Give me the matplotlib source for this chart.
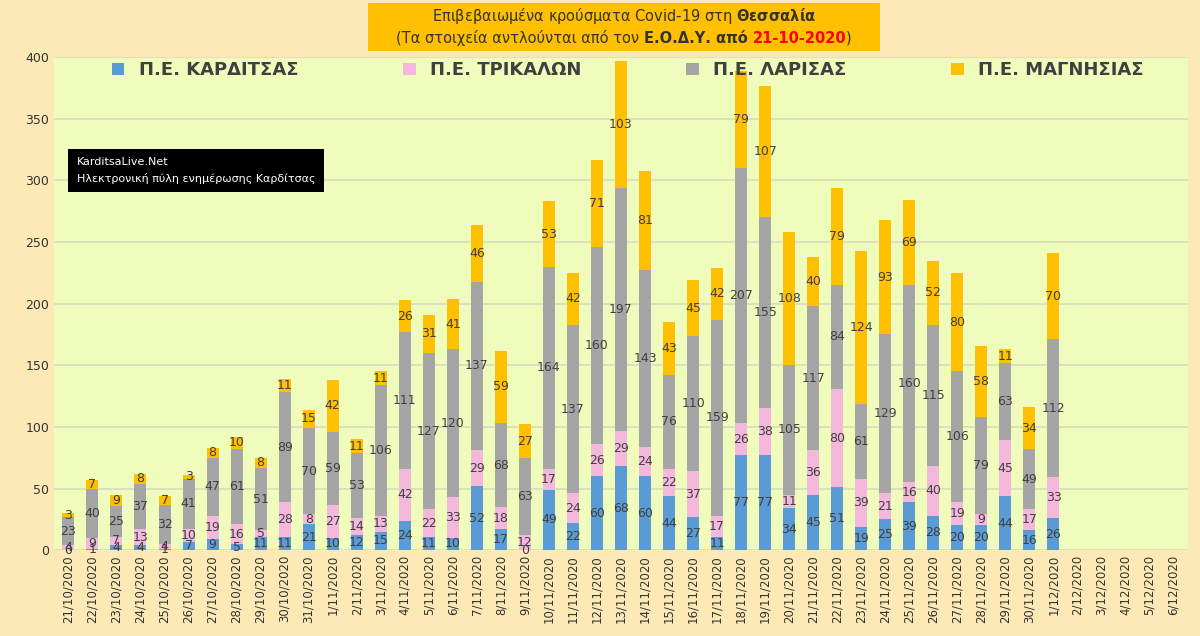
import numpy as np
import matplotlib.pyplot as plt

dates = ['21/10/2020', '22/10/2020', '23/10/2020', '24/10/2020', '25/10/2020', '26/10/2020',
         '27/10/2020', '28/10/2020', '29/10/2020', '30/10/2020', '31/10/2020', '1/11/2020',
         '2/11/2020', '3/11/2020', '4/11/2020', '5/11/2020', '6/11/2020', '7/11/2020',
         '8/11/2020', '9/11/2020', '10/11/2020', '11/11/2020', '12/11/2020', '13/11/2020',
         '14/11/2020', '15/11/2020', '16/11/2020', '17/11/2020', '18/11/2020', '19/11/2020',
         '20/11/2020', '21/11/2020', '22/11/2020', '23/11/2020', '24/11/2020', '25/11/2020',
         '26/11/2020', '27/11/2020', '28/11/2020', '29/11/2020', '30/11/2020', '1/12/2020',
         '2/12/2020', '3/12/2020', '4/12/2020', '5/12/2020', '6/12/2020']

karditsa = [0, 1, 4, 4, 1, 7, 9, 5, 11, 11, 21, 10, 12, 15, 24, 11, 10, 52, 17, 0, 49, 22, 60, 68,
            60, 44, 27, 11, 77, 77, 34, 45, 51, 19, 25, 39, 28, 20, 20, 44, 16, 26]
trikala = [4, 9, 7, 13, 4, 10, 19, 16, 5, 28, 8, 27, 14, 13, 42, 22, 33, 29, 18, 12, 17, 24, 26, 29,
           24, 22, 37, 17, 26, 38, 11, 36, 80, 39, 21, 16, 40, 19, 9, 45, 17, 33]
larisa = [23, 40, 25, 37, 32, 41, 47, 61, 51, 89, 70, 59, 53, 106, 111, 127, 120, 137, 68, 63, 164,
          137, 160, 197, 143, 76, 110, 159, 207, 155, 105, 117, 84, 61, 129, 160, 115, 106, 79, 63,
          49, 112]
magnisia = [3, 7, 9, 8, 7, 3, 8, 10, 8, 11, 15, 42, 11, 11, 26, 31, 41, 46, 59, 27, 53, 42, 71, 103,
            81, 43, 45, 42, 79, 107, 108, 40, 79, 124, 93, 69, 52, 80, 58, 11, 34, 70]

series = [karditsa, trikala, larisa, magnisia]
names = ['Π.Ε. ΚΑΡΔΙΤΣΑΣ', 'Π.Ε. ΤΡΙΚΑΛΩΝ', 'Π.Ε. ΛΑΡΙΣΑΣ', 'Π.Ε. ΜΑΓΝΗΣΙΑΣ']
colors = ['#5b9bd5', '#f4b8dc', '#a5a5a5', '#ffc000']

fig = plt.figure(figsize=(12, 6.36), dpi=100, facecolor='#fde9b5')
ax = fig.add_axes([0.045, 0.135, 0.945, 0.775])
ax.set_facecolor('#effcbc')

x = np.arange(len(dates))
bottom = np.zeros(len(karditsa))
for vals, name, col in zip(series, names, colors):
    v = np.array(vals)
    ax.bar(x[:len(v)], v, 0.5, bottom=bottom, color=col, label=name, zorder=3)
    for xi, b, val in zip(x, bottom, v):
        ax.text(xi, b + val / 2, str(val), ha='center', va='center',
                fontsize=9, color='#404040', zorder=4)
    bottom = bottom + v

ax.set_xlim(-0.6, len(dates) - 0.4)
ax.set_ylim(0, 400)
ax.set_yticks(range(0, 401, 50))
ax.set_xticks(x)
ax.set_xticklabels(dates, rotation=90, fontsize=8.5, color='#333333')
ax.tick_params(axis='y', labelsize=9, colors='#333333', length=0)
ax.tick_params(axis='x', length=0)
ax.grid(axis='y', color='#d8dcc0', lw=1.2, zorder=0)
for s in ax.spines.values():
    s.set_visible(False)

ax.legend(loc='upper center', bbox_to_anchor=(0.506, 1.025), ncol=4, frameon=False,
          handlelength=0.7, handleheight=0.7, columnspacing=5.8,
          prop={'weight': 'bold', 'size': 13}, labelcolor='#404040')

# title box
fig.patches.append(plt.Rectangle((0.307, 0.92), 0.426, 0.076, transform=fig.transFigure,
                                 facecolor='#ffc000', edgecolor='none'))
fig.text(0.52, 0.975, 'Επιβεβαιωμένα κρούσματα Covid-19 στη $\\bf{Θεσσαλία}$',
         ha='center', va='center', fontsize=10.5, color='#333333')

renderer = fig.canvas.get_renderer()
parts = [('(Τα στοιχεία αντλούνται από τον ', '#333333', 'normal'),
         ('Ε.Ο.Δ.Υ. από ', '#333333', 'bold'),
         ('21-10-2020', 'red', 'bold'),
         (')', '#333333', 'normal')]
texts = [fig.text(0, 0.94, p, fontsize=10.5, color=c, weight=w, va='center')
         for p, c, w in parts]
widths = [t.get_window_extent(renderer).width for t in texts]
xpos = 0.52 - sum(widths) / 2 / fig.bbox.width
for t, w in zip(texts, widths):
    t.set_x(xpos)
    xpos += w / fig.bbox.width

ax.text(0.02, 0.77, 'KarditsaLive.Net\nΗλεκτρονική πύλη ενημέρωσης Καρδίτσας',
        transform=ax.transAxes, ha='left', va='center', fontsize=8, color='white',
        linespacing=1.6,
        bbox=dict(facecolor='black', edgecolor='none', pad=6), zorder=5)

fig.savefig('out.png', dpi=100, facecolor=fig.get_facecolor())
